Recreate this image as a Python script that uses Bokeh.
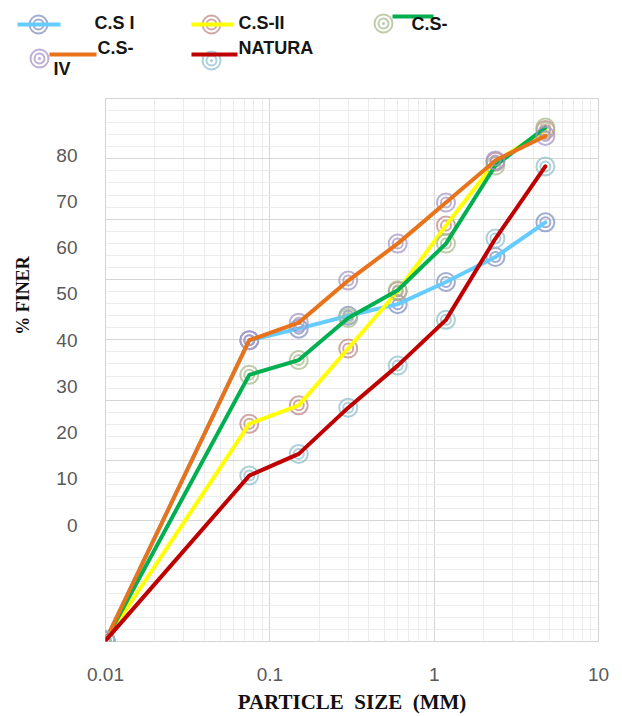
import math

from bokeh.core.properties import value
from bokeh.embed import file_html
from bokeh.layouts import column, row
from bokeh.models import FixedTicker, Range1d
from bokeh.plotting import figure
from bokeh.resources import INLINE

# Sieve sizes (mm) and percent finer for each sample
sizes = [0.01, 0.075, 0.15, 0.3, 0.6, 1.18, 2.36, 4.75]
cs_1 = [-25.0, 40.0, 42.5, 45.3, 47.8, 52.6, 58.0, 65.5]
cs_2 = [-25.0, 21.9, 25.9, 38.2, 50.6, 64.8, 78.6, 85.5]
cs_3 = [-25.0, 32.5, 35.7, 44.8, 50.8, 60.9, 77.8, 86.0]
cs_4 = [-25.0, 40.0, 43.8, 52.9, 60.9, 69.8, 78.9, 84.2]
natural = [-25.0, 10.7, 15.4, 25.4, 34.5, 44.4, 62.0, 77.6]

y_ticks = [0, 10, 20, 30, 40, 50, 60, 70, 80]
x_ticks = [0.01, 0.1, 1, 10]
x_tick_labels = ["0.01", "0.1", "1", "10"]

series = [
    (cs_1, "#66ccff", "#8290c0"),
    (cs_2, "#ffff00", "#c08888"),
    (cs_3, "#00b050", "#a8bb8c"),
    (cs_4, "#e8731a", "#a596c6"),
    (natural, "#c00000", "#8fc0d0"),
]

TICK_FONT = "Liberation Sans"
TITLE_FONT = "Liberation Serif"

STRIP_W = 40
y_lo, y_hi = -25.2, 92.3

p = figure(
    width=622 - STRIP_W, height=620,
    x_axis_type="log",
    x_range=Range1d(0.01, 10), y_range=Range1d(y_lo, y_hi),
    output_backend="svg", toolbar_location=None,
    min_border_left=105 - STRIP_W, min_border_right=24,
    min_border_top=2, min_border_bottom=75,
    background_fill_color="white", border_fill_color="white",
)
p.outline_line_color = "#d4d4d4"
p.outline_line_width = 1

# grid: 9 bands of 5 minor rows vertically, decades with 2..9 horizontally
step = (y_hi - y_lo) / 9
p.ygrid.ticker = FixedTicker(
    ticks=[y_lo + k * step for k in range(10)],
    minor_ticks=[y_lo + k * step / 5 for k in range(46)],
)
p.xgrid.ticker = FixedTicker(
    ticks=x_ticks,
    minor_ticks=[m * 10 ** e for e in (-2, -1, 0) for m in range(2, 10)],
)
for g in (p.xgrid, p.ygrid):
    g.grid_line_color = "#d6d6d6"
    g.grid_line_width = 1
    g.minor_grid_line_color = "#ececec"
    g.minor_grid_line_width = 1

p.yaxis.ticker = FixedTicker(ticks=y_ticks)
p.xaxis.ticker = FixedTicker(ticks=x_ticks)
p.xaxis.major_label_overrides = dict(zip(x_ticks, x_tick_labels))
for ax in (p.xaxis, p.yaxis):
    ax.axis_line_color = None
    ax.major_tick_line_color = None
    ax.minor_tick_line_color = None
    ax.major_label_text_font = TICK_FONT
    ax.major_label_text_font_size = "19px"
    ax.major_label_text_color = "#595959"
p.yaxis.major_label_standoff = 22
p.xaxis.major_label_standoff = 20

p.xaxis.axis_label = "PARTICLE\u00a0 SIZE\u00a0 (MM)"
p.xaxis.axis_label_text_font = TITLE_FONT
p.xaxis.axis_label_text_font_style = "bold"
p.xaxis.axis_label_text_font_size = "21px"
p.xaxis.axis_label_text_color = "#111111"
p.xaxis.axis_label_standoff = 6


def ring_marker(fig, xs, ys, color):
    fig.scatter(xs, ys, marker="circle", size=18, fill_color=None,
                line_color=color, line_width=2, line_alpha=0.75)
    fig.scatter(xs, ys, marker="circle", size=10, fill_color=None,
                line_color=color, line_width=2, line_alpha=0.75)
    fig.scatter(xs, ys, marker="circle", size=3, fill_color=color,
                line_color=None, fill_alpha=0.8)


for ys, line_col, mark_col in series:
    ring_marker(p, sizes, ys, mark_col)
    p.line(sizes, ys, line_color=line_col, line_width=4,
           line_join="round", line_cap="round")

# narrow strip on the left carrying the vertical axis title
strip = figure(
    width=STRIP_W, height=620,
    x_range=Range1d(0, STRIP_W), y_range=Range1d(620, 0),
    output_backend="svg", toolbar_location=None,
    x_axis_location=None, y_axis_location=None,
    min_border=0,
)
strip.grid.visible = False
strip.outline_line_color = None
strip.text(
    x=[22], y=[225], text=["% FINER"], angle=math.pi / 2,
    text_font=value(TITLE_FONT), text_font_style="bold",
    text_font_size="18px", text_color="#111111",
    text_align="center", text_baseline="middle",
)

# legend strip above the plot
lg = figure(
    width=622, height=96,
    x_range=Range1d(0, 622), y_range=Range1d(96, 0),
    output_backend="svg", toolbar_location=None,
    x_axis_location=None, y_axis_location=None,
    min_border=0,
)
lg.grid.visible = False
lg.outline_line_color = None

legend_lines = [
    ((17, 60), (24, 24)),
    ((191, 233), (24, 24)),
    ((392, 433), (16, 16)),
    ((49, 96), (54, 54)),
    ((191, 237), (54, 54)),
]
legend_marks = [(38, 24), (211, 24), (383, 23), (39, 58), (211, 60)]
legend_texts = [
    (94, 22, "C.S I"),
    (238, 22, "C.S-II"),
    (411, 23, "C.S-"),
    (97, 47, "C.S-"),
    (53, 68, "IV"),
    (238, 47, "NATURA"),
]

for (xs, ys), (mx, my), (_, line_col, mark_col) in zip(legend_lines, legend_marks, series):
    ring_marker(lg, [mx], [my], mark_col)
    lg.line(list(xs), list(ys), line_color=line_col, line_width=4)

lg.text(
    x=[t[0] for t in legend_texts], y=[t[1] for t in legend_texts],
    text=[t[2] for t in legend_texts],
    text_font=value(TICK_FONT), text_font_style="bold",
    text_font_size="18px", text_color="#151515",
    text_align="left", text_baseline="middle",
)

layout = column(lg, row(strip, p, spacing=0), spacing=0)
open("out.html", "w").write(file_html(layout, INLINE))
